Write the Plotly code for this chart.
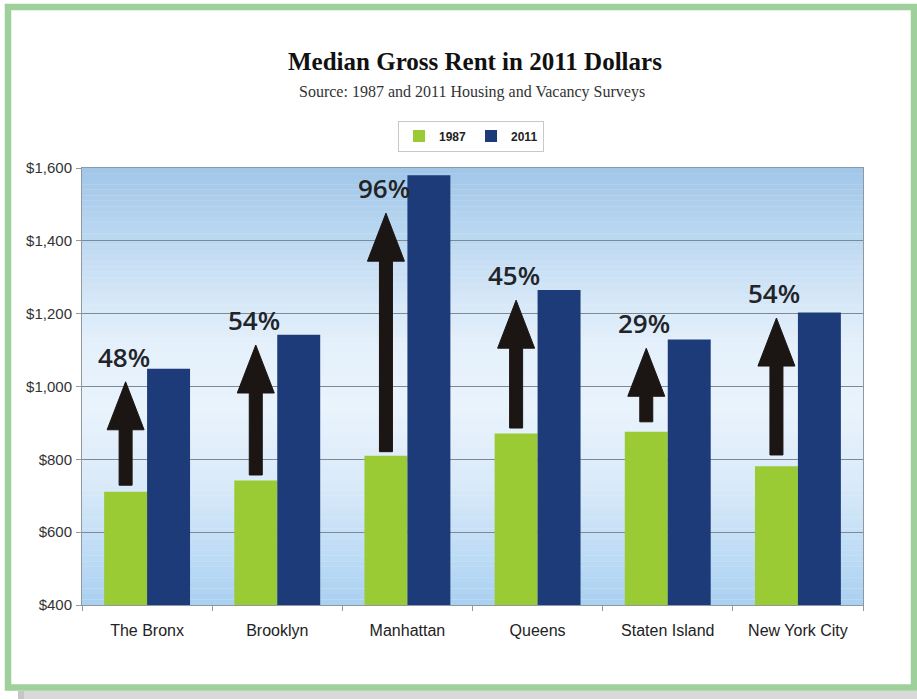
import plotly.graph_objects as go

# ---------------- data ----------------
categories = ["The Bronx", "Brooklyn", "Manhattan", "Queens", "Staten Island", "New York City"]
rent_1987 = [711, 742, 810, 871, 876, 781]
rent_2011 = [1049, 1142, 1580, 1265, 1129, 1203]
pct_labels = ["48%", "54%", "96%", "45%", "29%", "54%"]
arrow_from = [729, 757, 821, 886, 903, 812]     # arrow tail (dollars)
arrow_to = [1013, 1114, 1476, 1237, 1105, 1188]  # arrow tip (dollars)
y_ticks = [400, 600, 800, 1000, 1200, 1400, 1600]
y_tick_labels = ["$400", "$600", "$800", "$1,000", "$1,200", "$1,400", "$1,600"]

# ---------------- geometry ----------------
W, H = 917, 699
L, R, T, B = 82, 54, 168, 94
PW, PH = W - L - R, H - T - B
Y0, Y1 = 400, 1600
BARGAP = 0.34
xs = list(range(len(categories)))
bar_w = (1 - BARGAP) / 2
cat_px = PW / len(categories)
dollars_per_px = (Y1 - Y0) / PH


def px(xp):
    return (xp - L) / PW


def py(yp):
    return (H - B - yp) / PH


GREEN = "#9acb34"
NAVY = "#1d3b78"

fig = go.Figure()
fig.add_trace(go.Bar(x=xs, y=rent_1987, name="1987", marker=dict(color=GREEN, line=dict(width=0))))
fig.add_trace(go.Bar(x=xs, y=rent_2011, name="2011", marker=dict(color=NAVY, line=dict(width=0))))

shapes = []
# outer card shadow and frame
shapes.append(dict(type="rect", xref="paper", yref="paper", x0=px(18), x1=px(917), y0=py(699), y1=py(691),
                   fillcolor="#d9d9d9", line=dict(width=0), layer="below"))
shapes.append(dict(type="rect", xref="paper", yref="paper", x0=px(18), x1=px(24), y0=py(699), y1=py(691),
                   fillcolor="#c6c6c6", line=dict(width=0), layer="below"))
shapes.append(dict(type="rect", xref="paper", yref="paper", x0=px(8), x1=px(914), y0=py(687.5), y1=py(7),
                   fillcolor="rgba(0,0,0,0)", line=dict(color="#9dd09b", width=6.5), layer="below"))

# plot-area gradient background
stops = [(0.0, (170, 208, 240)), (0.12, (190, 220, 245)), (0.28, (218, 234, 249)), (0.45, (233, 243, 252)),
         (0.6, (228, 240, 251)), (0.72, (210, 229, 247)), (0.86, (184, 214, 240)), (1.0, (160, 198, 232))]
N = 80
for k in range(N):
    f = (k + 0.5) / N
    for j in range(len(stops) - 1):
        if stops[j][0] <= f <= stops[j + 1][0]:
            a, ca = stops[j]
            b, cb = stops[j + 1]
            t = (f - a) / (b - a)
            c = tuple(round(ca[m] + (cb[m] - ca[m]) * t) for m in range(3))
            break
    shapes.append(dict(type="rect", xref="x domain", yref="y domain", x0=0, x1=1, y0=k / N, y1=(k + 1.02) / N,
                       fillcolor="rgb(%d,%d,%d)" % c, line=dict(width=0), layer="below"))

# arrows
head_h = 48 * dollars_per_px
head_hw = 18.5 / cat_px
shaft_hw = 6.5 / cat_px
annotations = []
for i in xs:
    cx = i - bar_w / 2
    base, tip = arrow_from[i], arrow_to[i]
    neck = tip - head_h
    path = (f"M {cx - shaft_hw},{base} L {cx - shaft_hw},{neck} L {cx - head_hw},{neck} L {cx},{tip} "
            f"L {cx + head_hw},{neck} L {cx + shaft_hw},{neck} L {cx + shaft_hw},{base} Z")
    shapes.append(dict(type="path", xref="x", yref="y", path=path, fillcolor="#1b1513",
                       line=dict(color="#1b1513", width=1), layer="above"))
    annotations.append(dict(x=cx, y=tip, xref="x", yref="y", text=pct_labels[i], showarrow=False,
                            yanchor="bottom", xanchor="center", yshift=5, xshift=-2,
                            font=dict(family="Open Sans", size=26, color="#222428", weight=600)))

annotations.append(dict(x=px(475), y=py(62), xref="paper", yref="paper", showarrow=False,
                        text="<b>Median Gross Rent in 2011 Dollars</b>",
                        font=dict(family="Liberation Serif", size=25, color="#111111"),
                        xanchor="center", yanchor="middle"))
annotations.append(dict(x=px(472), y=py(92), xref="paper", yref="paper", showarrow=False,
                        text="Source: 1987 and 2011 Housing and Vacancy Surveys",
                        font=dict(family="Liberation Serif", size=16, color="#333333"),
                        xanchor="center", yanchor="middle"))

fig.update_layout(
    width=W, height=H, margin=dict(l=L, r=R, t=T, b=B, autoexpand=False),
    paper_bgcolor="white", plot_bgcolor="#e6f1fa",
    barmode="group", bargap=BARGAP, bargroupgap=0,
    shapes=shapes, annotations=annotations,
    showlegend=True,
    legend=dict(orientation="h", x=px(471), y=py(136), xanchor="center", yanchor="middle",
                bordercolor="#c8c8c8", borderwidth=1, bgcolor="white",
                font=dict(family="Liberation Sans", size=12, color="#222222", weight="bold"),
                itemwidth=30, tracegroupgap=0),
    font=dict(family="Liberation Sans", color="#222222"),
)
fig.update_xaxes(range=[-0.5, len(categories) - 0.5], tickmode="array", tickvals=xs, ticktext=categories,
                 ticks="", showgrid=False, zeroline=False, showline=True, linecolor="#8e99a3", linewidth=1,
                 mirror=True, tickfont=dict(size=16, color="#222222"), ticklabelstandoff=11,
                 minor=dict(tickmode="array", tickvals=[i - 0.5 for i in range(len(categories) + 1)],
                            ticks="outside", ticklen=5, tickcolor="#8e99a3", showgrid=False))
fig.update_yaxes(range=[Y0, Y1], tickmode="array", tickvals=y_ticks, ticktext=y_tick_labels,
                 ticks="outside", ticklen=5, tickcolor="#8e99a3", showgrid=True, gridcolor="#7d8a96",
                 gridwidth=1, zeroline=False, showline=True, linecolor="#8e99a3", linewidth=1, mirror=True,
                 tickfont=dict(size=15, color="#333333"), ticklabelstandoff=1)

fig.write_html("out.html")
